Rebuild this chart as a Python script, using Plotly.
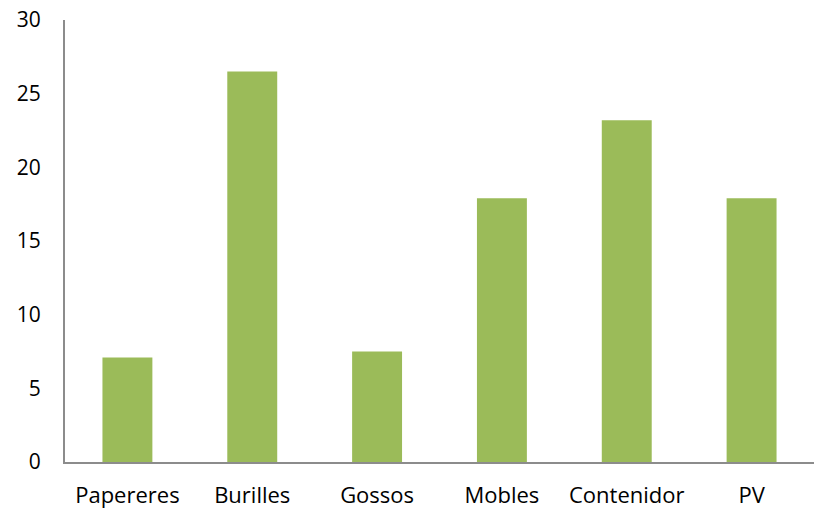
import plotly.graph_objects as go

categories = ["Papereres", "Burilles", "Gossos", "Mobles", "Contenidor", "PV"]
values = [7.1, 26.5, 7.5, 17.9, 23.2, 17.9]
y_ticks = [0, 5, 10, 15, 20, 25, 30]

fig = go.Figure(go.Bar(x=categories, y=values, marker_color="#9BBB59", marker_line_width=0))
fig.update_layout(
    width=814, height=511,
    margin=dict(l=65, r=0, t=20, b=49),
    plot_bgcolor="white", paper_bgcolor="white",
    bargap=0.6,
    showlegend=False,
    font=dict(family="Open Sans", size=21, color="black"),
)
fig.update_xaxes(showline=True, linecolor="#8c8c8c", linewidth=2, showgrid=False,
                 ticks="outside", ticklen=13, tickcolor="rgba(0,0,0,0)", tickfont=dict(size=22))
fig.update_yaxes(range=[0, 30], tickvals=y_ticks, showline=True, linecolor="#8c8c8c", linewidth=2,
                 showgrid=False, zeroline=False, ticks="outside", ticklen=18, tickcolor="rgba(0,0,0,0)")
fig.write_html("out.html")
